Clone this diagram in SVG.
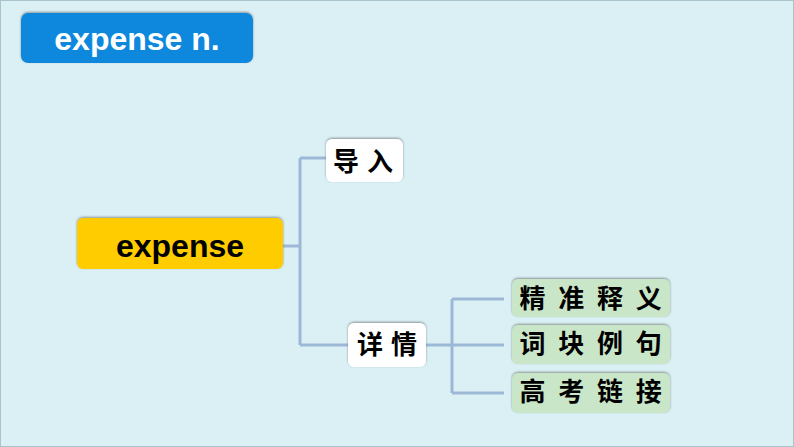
<svg xmlns="http://www.w3.org/2000/svg" width="794" height="447" viewBox="0 0 794 447">
<defs>
<filter id="sh" x="-10%" y="-20%" width="120%" height="150%">
<feDropShadow dx="0" dy="-1" stdDeviation="1.2" flood-color="#555" flood-opacity="0.6"/>
</filter>
</defs>
<style>
.lbl{font-family:"Liberation Sans","Noto Sans CJK SC",sans-serif;font-weight:bold;text-anchor:middle}
.cn{font-family:"Noto Sans CJK SC",sans-serif;font-weight:bold;text-anchor:middle;font-size:26px;fill:#000}
.con{fill:none;stroke:#9DB8D6;stroke-width:3}
</style>
<rect x="0" y="0" width="794" height="447" fill="#DAF0F4"/>
<rect x="0.5" y="0.5" width="793" height="446" fill="none" stroke="#A9C4CC" stroke-width="1"/>
<g id="title">
<rect x="21" y="13" width="232" height="50" rx="7" fill="#0A88DC" filter="url(#sh)"/>
<text class="lbl" x="137" y="50" font-size="32" fill="#fff">expense n.</text>
</g>
<g id="connectors">
<path class="con" d="M283 246H300M300 158V345M300 158H326M300 345H348"/>
<path class="con" d="M426 345H504M452 299V393M452 299H504M452 393H504"/>
</g>
<g id="root">
<rect x="77" y="218" width="206" height="51" rx="6" fill="#FFCC00" filter="url(#sh)"/>
<text class="lbl" x="180" y="257" font-size="32" fill="#000">expense</text>
</g>
<g id="intro">
<rect x="326" y="139" width="77" height="43" rx="6" fill="#fff" filter="url(#sh)"/>
<text class="cn" x="367" y="171" letter-spacing="8">导入</text>
</g>
<g id="detail">
<rect x="348" y="323" width="78" height="44" rx="6" fill="#fff" filter="url(#sh)"/>
<text class="cn" x="391" y="354" letter-spacing="8">详情</text>
</g>
<g id="meaning">
<rect x="512" y="279" width="158" height="38" rx="6" fill="#C9E6C8" filter="url(#sh)"/>
<text class="cn" x="597" y="308" letter-spacing="12.7">精准释义</text>
</g>
<g id="phrases">
<rect x="512" y="325" width="158" height="39" rx="6" fill="#C9E6C8" filter="url(#sh)"/>
<text class="cn" x="597" y="353" letter-spacing="12.7">词块例句</text>
</g>
<g id="exam">
<rect x="512" y="373" width="158" height="40" rx="6" fill="#C9E6C8" filter="url(#sh)"/>
<text class="cn" x="597" y="401" letter-spacing="12.7">高考链接</text>
</g>
</svg>
